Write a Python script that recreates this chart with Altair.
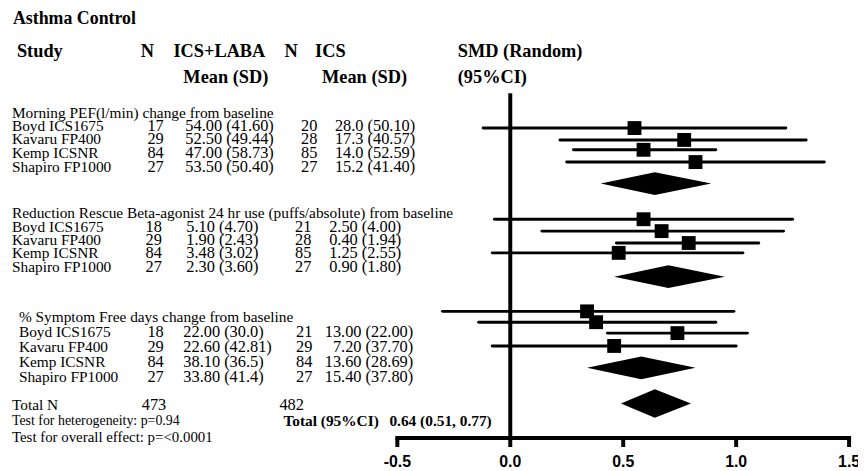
import altair as alt
import pandas as pd

# ---------------- data ----------------
groups = ["Morning PEF(l/min) change from baseline",
          "Reduction Rescue Beta-agonist 24 hr use (puffs/absolute) from baseline",
          "% Symptom Free days change from baseline"]
studies = ["Boyd ICS1675", "Kavaru FP400", "Kemp ICSNR", "Shapiro FP1000"]
n_combo = [[17, 29, 84, 27], [18, 29, 84, 27], [18, 29, 84, 27]]
mean_combo = [["54.00 (41.60)", "52.50 (49.44)", "47.00 (58.73)", "53.50 (50.40)"],
              ["5.10 (4.70)", "1.90 (2.43)", "3.48 (3.02)", "2.30 (3.60)"],
              ["22.00 (30.0)", "22.60 (42.81)", "38.10 (36.5)", "33.80 (41.4)"]]
n_ics = [[20, 28, 85, 27], [21, 28, 85, 27], [21, 29, 84, 27]]
mean_ics = [["28.0 (50.10)", "17.3 (40.57)", "14.0 (52.59)", "15.2 (41.40)"],
            ["2.50 (4.00)", "0.40 (1.94)", "1.25 (2.55)", "0.90 (1.80)"],
            ["13.00 (22.00)", "7.20 (37.70)", "13.60 (28.69)", "15.40 (37.80)"]]
smd = [[0.55, 0.77, 0.59, 0.82], [0.59, 0.67, 0.79, 0.48], [0.34, 0.38, 0.74, 0.46]]
smd_lo = [[-0.12, 0.22, 0.28, 0.25], [-0.07, 0.14, 0.47, -0.08], [-0.30, -0.14, 0.43, -0.08]]
smd_hi = [[1.22, 1.31, 0.91, 1.39], [1.25, 1.21, 1.10, 1.03], [0.99, 0.91, 1.05, 1.00]]
pooled = [0.64, 0.70, 0.58]
pooled_lo = [0.40, 0.46, 0.34]
pooled_hi = [0.89, 0.95, 0.82]
total_est, total_lo, total_hi = 0.64, 0.49, 0.80
total_n = ["473", "482"]
ticks = [-0.5, 0.0, 0.5, 1.0, 1.5]
tick_labels = ["-0.5", "0.0", "0.5", "1.0", "1.5"]

# ---------------- layout (row units, pixels) ----------------
plot_rows = [[0, 1, 1.83, 2.86], [7.67, 8.67, 9.67, 10.5], [15.42, 16.33, 17.25, 18.33]]
diamond_rows = [4.67, 12.5, 20.17]
total_row = 23.17
head_rows = [-1.25, 7.17, 15.92]
text_rows = [[-0.17, 0.92, 2.08, 3.25], [8.33, 9.42, 10.5, 11.67], [17.17, 18.42, 19.67, 20.92]]
name_x = [4, 4, 11]
n1_x = [149, 147, 149]
m1_x = [179, 180, 177]
n2_x = [304, 298, 299]
m2_x = [411, 397, 409]
axis_row = 26.08

W, H = 858, 463
xscale = alt.Scale(domain=[-507 / 228, (W - 507) / 228], nice=False, zero=False)
yscale = alt.Scale(domain=[-119 / 12, (H - 119) / 12], reverse=True, nice=False, zero=False)
SERIF = "Liberation Serif"
BODY = 15.5
NUM = 16.5
HEAD = 18.5


def text_layer(texts, rows, x, size=BODY, bold=False, align="left", font=SERIF):
    df = pd.DataFrame({"t": texts, "r": rows})
    return alt.Chart(df).mark_text(
        align=align, baseline="middle", fontSize=size,
        fontWeight="bold" if bold else "normal", font=font, color="black"
    ).encode(x=alt.value(x), y=alt.Y("r:Q", scale=yscale, axis=None), text="t:N")


layers = []
# header
layers.append(text_layer(["Asthma Control"], [-9.17], 5, 18, True))
for t, x in [("Study", 9), ("N", 134), ("ICS+LABA", 167), ("N", 279), ("ICS", 310), ("SMD (Random)", 454)]:
    layers.append(text_layer([t], [-6.5], x, HEAD, True))
for t, x in [("Mean (SD)", 177), ("Mean (SD)", 317), ("(95%CI)", 454)]:
    layers.append(text_layer([t], [-4.33], x, HEAD, True))

# table text
for g in range(3):
    layers.append(text_layer([groups[g]], [head_rows[g]], name_x[g]))
    layers.append(text_layer(studies, text_rows[g], name_x[g]))
    layers.append(text_layer([str(v) for v in n_combo[g]], text_rows[g], n1_x[g], NUM, align="center"))
    layers.append(text_layer(mean_combo[g], text_rows[g], m1_x[g], NUM))
    layers.append(text_layer([str(v) for v in n_ics[g]], text_rows[g], n2_x[g], NUM, align="center"))
    layers.append(text_layer(mean_ics[g], text_rows[g], m2_x[g], NUM, align="right"))

# totals
layers.append(text_layer(["Total N"], [23.33], 4))
layers.append(text_layer([total_n[0]], [23.33], 135, NUM))
layers.append(text_layer([total_n[1]], [23.33], 274, NUM))
layers.append(text_layer(["Test for heterogeneity: p=0.94"], [24.67], 4, 14))
layers.append(text_layer(["Test for overall effect: p=<0.0001"], [26.0], 4, 15))
layers.append(text_layer(["Total (95%CI)"], [24.67], 278, bold=True))
layers.append(text_layer([f"{total_est:.2f} (0.51, 0.77)"], [24.67], 385, bold=True))

# forest: CI lines and squares
rows = []
for g in range(3):
    for i in range(4):
        rows.append({"est": smd[g][i], "lo": smd_lo[g][i], "hi": smd_hi[g][i], "r": plot_rows[g][i]})
study_df = pd.DataFrame(rows)
ci = alt.Chart(study_df).mark_rule(strokeWidth=3, strokeCap="round", color="black").encode(
    x=alt.X("lo:Q", scale=xscale, axis=None), x2="hi:Q",
    y=alt.Y("r:Q", scale=yscale, axis=None))
sq = alt.Chart(study_df).mark_square(size=196, opacity=1, color="black").encode(
    x=alt.X("est:Q", scale=xscale, axis=None), y=alt.Y("r:Q", scale=yscale, axis=None))

# diamonds
drows = []
specs = [(pooled[g], pooled_lo[g], pooled_hi[g], diamond_rows[g], 0.96, f"g{g}") for g in range(3)]
specs.append((total_est, total_lo, total_hi, total_row, 1.2, "tot"))
for est, lo, hi, r, h, gid in specs:
    drows += [{"gid": gid, "x": lo, "y": r, "y2": r},
              {"gid": gid, "x": est, "y": r - h, "y2": r + h},
              {"gid": gid, "x": hi, "y": r, "y2": r}]
dia = alt.Chart(pd.DataFrame(drows)).mark_area(color="black", opacity=1).encode(
    x=alt.X("x:Q", scale=xscale, axis=None),
    y=alt.Y("y:Q", scale=yscale, axis=None), y2="y2:Q",
    detail="gid:N")

# zero line and axis
zero_df = pd.DataFrame({"x": [0.0], "r1": [-2.92], "r2": [axis_row]})
zero = alt.Chart(zero_df).mark_rule(strokeWidth=4, color="black").encode(
    x=alt.X("x:Q", scale=xscale, axis=None),
    y=alt.Y("r1:Q", scale=yscale, axis=None), y2="r2:Q")
axis_df = pd.DataFrame({"a": [ticks[0]], "b": [ticks[-1]], "r": [axis_row]})
axis_line = alt.Chart(axis_df).mark_rule(strokeWidth=4, strokeCap="square", color="black").encode(
    x=alt.X("a:Q", scale=xscale, axis=None), x2="b:Q",
    y=alt.Y("r:Q", scale=yscale, axis=None))
tick_df = pd.DataFrame({"v": ticks, "lab": tick_labels, "r1": axis_row, "r2": axis_row + 0.75, "rl": 28.1})
tick_marks = alt.Chart(tick_df).mark_rule(strokeWidth=4, color="black").encode(
    x=alt.X("v:Q", scale=xscale, axis=None),
    y=alt.Y("r1:Q", scale=yscale, axis=None), y2="r2:Q")
tick_text = alt.Chart(tick_df).mark_text(
    fontSize=16, fontWeight="bold", font="Liberation Sans", baseline="middle", align="center", color="black"
).encode(x=alt.X("v:Q", scale=xscale, axis=None),
         y=alt.Y("rl:Q", scale=yscale, axis=None), text="lab:N")

layers += [ci, dia, sq, zero, axis_line, tick_marks, tick_text]

chart = alt.layer(*layers).properties(
    width=W, height=H, padding=0, autosize=alt.AutoSizeParams(type="none"), background="white"
).configure_view(stroke=None)

chart.save("out.html", embed_options={"renderer": "svg", "actions": False})
